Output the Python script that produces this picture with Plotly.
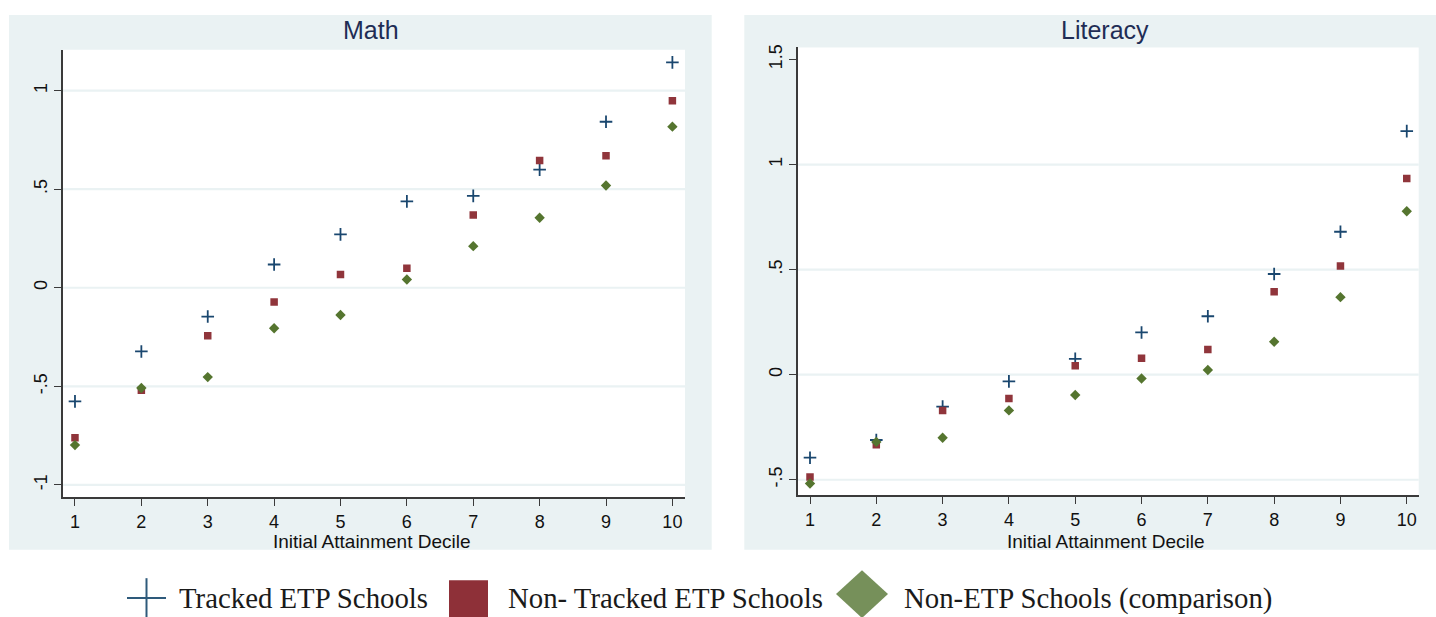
import plotly.graph_objects as go

W, H = 1436, 617

# ---- data -------------------------------------------------------------
deciles = [1, 2, 3, 4, 5, 6, 7, 8, 9, 10]

math_tracked = [-0.576, -0.323, -0.146, 0.118, 0.271, 0.438, 0.466, 0.599, 0.842, 1.143]
math_nontracked = [-0.761, -0.520, -0.244, -0.072, 0.067, 0.099, 0.369, 0.646, 0.670, 0.949]
math_nonetp = [-0.798, -0.508, -0.453, -0.205, -0.138, 0.042, 0.211, 0.355, 0.519, 0.817]

lit_tracked = [-0.395, -0.311, -0.152, -0.032, 0.075, 0.201, 0.278, 0.479, 0.680, 1.159]
lit_nontracked = [-0.487, -0.333, -0.170, -0.113, 0.043, 0.078, 0.120, 0.395, 0.517, 0.934]
lit_nonetp = [-0.518, -0.320, -0.300, -0.170, -0.097, -0.018, 0.022, 0.157, 0.369, 0.778]

series_names = ["Tracked ETP Schools", "Non- Tracked ETP Schools", "Non-ETP Schools (comparison)"]
panel_titles = ["Math", "Literacy"]
x_title = "Initial Attainment Decile"

math_yticks = [-1, -0.5, 0, 0.5, 1]
math_yticktext = ["-1", "-.5", "0", ".5", "1"]
lit_yticks = [-0.5, 0, 0.5, 1, 1.5]
lit_yticktext = ["-.5", "0", ".5", "1", "1.5"]
math_grid = [-1, -0.5, 0, 0.5, 1]
lit_grid = [-0.5, 0, 0.5, 1]

# ---- styling ----------------------------------------------------------
NAVY = "#1A476F"
MAROON = "#90353B"
GREEN = "#55752F"
PANEL_BG = "#EAF2F3"
AXIS_COL = "#3a3a3a"
SANS = "Liberation Sans, Arial, sans-serif"
SERIF = "Liberation Serif, Times New Roman, serif"


def px(x):
    return x / W


def py(y):
    return 1 - y / H


fig = go.Figure()

marker_styles = [
    dict(symbol="cross-thin", size=9, color=NAVY, line=dict(color=NAVY, width=1.8)),
    dict(symbol="square", size=7.5, color=MAROON, line=dict(width=0)),
    dict(symbol="diamond", size=8, color=GREEN, line=dict(width=0)),
]

for (xa, ya), ys in [
    (("x", "y"), [math_tracked, math_nontracked, math_nonetp]),
    (("x2", "y2"), [lit_tracked, lit_nontracked, lit_nonetp]),
]:
    for name, vals, mk in zip(series_names, ys, marker_styles):
        fig.add_trace(go.Scatter(
            x=deciles, y=vals, mode="markers", name=name,
            marker=mk, xaxis=xa, yaxis=ya, showlegend=False,
            hoverinfo="x+y",
        ))

# panel geometry (pixels)
math_box = dict(x0=62.5, x1=685, y0=47, y1=496.7)
lit_box = dict(x0=798, x1=1418.7, y0=44.7, y1=494.7)

axis_common = dict(
    showline=True, linecolor=AXIS_COL, linewidth=1.5, mirror=False,
    ticks="outside", ticklen=7, tickwidth=1, tickcolor=AXIS_COL,
    showgrid=False, zeroline=False,
    tickfont=dict(family=SANS, size=18, color="#111"),
)

fig.update_layout(
    width=W, height=H,
    margin=dict(l=0, r=0, t=0, b=0),
    paper_bgcolor="white",
    plot_bgcolor="rgba(0,0,0,0)",
    showlegend=False,
    xaxis=dict(domain=[px(math_box["x0"]), px(math_box["x1"])], range=[0.812, 10.19],
               tickvals=deciles, anchor="y", **axis_common),
    yaxis=dict(domain=[py(math_box["y1"]), py(math_box["y0"])], range=[-1.0626, 1.207],
               tickvals=math_yticks, ticktext=math_yticktext, tickangle=-90,
               anchor="x", **axis_common),
    xaxis2=dict(domain=[px(lit_box["x0"]), px(lit_box["x1"])], range=[0.819, 10.18],
                tickvals=deciles, anchor="y2", **axis_common),
    yaxis2=dict(domain=[py(lit_box["y1"]), py(lit_box["y0"])], range=[-0.574, 1.557],
                tickvals=lit_yticks, ticktext=lit_yticktext, tickangle=-90,
                anchor="x2", **axis_common),
)

shapes = []
# outer panel backgrounds
for x0, x1 in [(9, 711.7), (744.3, 1436)]:
    shapes.append(dict(type="rect", xref="paper", yref="paper",
                       x0=px(x0), x1=px(x1), y0=py(549.3), y1=py(12),
                       fillcolor=PANEL_BG, line=dict(width=0), layer="below"))
# white plot regions
for b in (math_box, lit_box):
    shapes.append(dict(type="rect", xref="paper", yref="paper",
                       x0=px(b["x0"]), x1=px(b["x1"]), y0=py(b["y1"]), y1=py(b["y0"]),
                       fillcolor="white", line=dict(width=0), layer="below"))
# horizontal grid lines
for xr, yr, grid in [("x domain", "y", math_grid), ("x2 domain", "y2", lit_grid)]:
    for g in grid:
        shapes.append(dict(type="line", xref=xr, yref=yr, x0=0, x1=1, y0=g, y1=g,
                           line=dict(color=PANEL_BG, width=2.2), layer="below"))

# legend symbols
LEG_Y = 598
shapes.append(dict(type="line", xref="paper", yref="paper",
                   x0=px(127), x1=px(166), y0=py(LEG_Y), y1=py(LEG_Y),
                   line=dict(color="#2E5A7B", width=2)))
shapes.append(dict(type="line", xref="paper", yref="paper",
                   x0=px(146.5), x1=px(146.5), y0=py(578), y1=py(617),
                   line=dict(color="#2E5A7B", width=2)))
shapes.append(dict(type="rect", xref="paper", yref="paper",
                   x0=px(449), x1=px(488), y0=py(617), y1=py(580),
                   fillcolor="#8E3038", line=dict(width=0)))
dcx, dcy, dhw, dhh = 862, 594, 26, 24
shapes.append(dict(type="path", xref="paper", yref="paper",
                   path=(f"M {px(dcx)} {py(dcy - dhh)} L {px(dcx + dhw)} {py(dcy)} "
                         f"L {px(dcx)} {py(dcy + dhh)} L {px(dcx - dhw)} {py(dcy)} Z"),
                   fillcolor="#76905A", line=dict(width=0)))
fig.update_layout(shapes=shapes)

annotations = []
# panel titles and x-axis titles
for title, b in zip(panel_titles, (math_box, lit_box)):
    annotations.append(dict(text=title, xref="paper", yref="paper",
                            x=px((b["x0"] + b["x1"]) / 2 - 3), y=py(27),
                            xanchor="center", yanchor="middle", showarrow=False,
                            font=dict(family=SANS, size=25, color="#1F2D55")))
    annotations.append(dict(text=x_title, xref="paper", yref="paper",
                            x=px((b["x0"] + b["x1"]) / 2 - 2), y=py(541),
                            xanchor="center", yanchor="middle", showarrow=False,
                            font=dict(family=SANS, size=19, color="#111")))
# legend labels
for name, lx in zip(series_names, [177, 506, 902]):
    annotations.append(dict(text=name, xref="paper", yref="paper",
                            x=px(lx), y=py(LEG_Y), xanchor="left", yanchor="middle",
                            showarrow=False,
                            font=dict(family=SERIF, size=28.8, color="#1a1a1a")))
fig.update_layout(annotations=annotations)

fig.write_html("out.html")
